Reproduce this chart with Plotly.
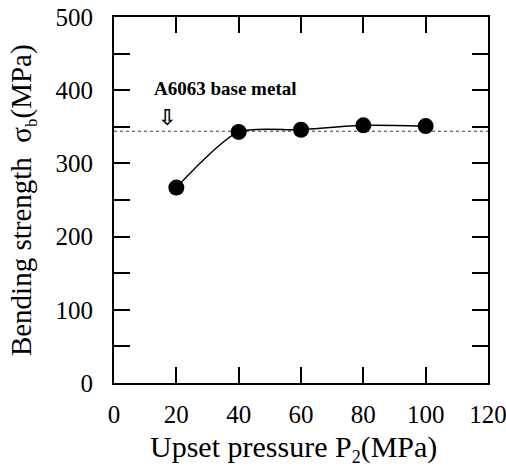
import plotly.graph_objects as go

pressure = [20, 40, 60, 80, 100]
strength = [267, 343, 346, 352, 351]
base_metal_strength = 344
base_x = [0, 120]
x_ticks = [0, 20, 40, 60, 80, 100, 120]
y_ticks = [0, 100, 200, 300, 400, 500]

FONT = "Liberation Serif"

fig = go.Figure()
fig.add_trace(go.Scatter(
    x=base_x, y=[base_metal_strength] * len(base_x), mode="lines",
    line=dict(color="#333", width=1, dash="dot"), showlegend=False, hoverinfo="skip"))
fig.add_trace(go.Scatter(
    x=pressure, y=strength, mode="lines+markers",
    line=dict(color="black", width=1.5, shape="spline", smoothing=0.7),
    marker=dict(color="black", size=16),
    showlegend=False))
fig.add_trace(go.Scatter(
    x=pressure, y=strength, mode="markers", xaxis="x2", yaxis="y2",
    marker=dict(opacity=0), showlegend=False, hoverinfo="skip"))

fig.add_annotation(x=12.3, y=403, text="<b>A6063 base metal</b>", showarrow=False,
                   xanchor="left", yanchor="middle",
                   font=dict(family=FONT, size=19, color="black"))
fig.add_annotation(x=17, y=363, text="<b>⇩</b>", showarrow=False,
                   xanchor="center", yanchor="middle",
                   font=dict(family="DejaVu Sans", size=22, color="black"))

fig.add_annotation(xref="paper", yref="paper", x=-0.243, y=0.5, textangle=-90,
                   text="Bending strength  σ<sub><span style='font-size:17px'>b</span></sub>(MPa)",
                   showarrow=False, xanchor="center", yanchor="middle",
                   font=dict(family=FONT, size=29, color="black"))
fig.add_annotation(xref="paper", yref="paper", x=0.479, y=-0.178,
                   text="Upset pressure P<sub><span style='font-size:18px'>2</span></sub>(MPa)",
                   showarrow=False, xanchor="center", yanchor="middle",
                   font=dict(family=FONT, size=30, color="black"))

axis_common = dict(showline=True, linecolor="black", linewidth=2, mirror="allticks",
                   ticks="inside", ticklen=16, tickwidth=2, tickcolor="black",
                   showgrid=False, zeroline=False, automargin=False,
                   ticklabeloverflow="allow",
                   tickfont=dict(family=FONT, size=25, color="black"))

fig.update_layout(
    xaxis=dict(range=[0, 120], tickvals=x_ticks, ticktext=[str(v) for v in x_ticks],
               ticklabelstandoff=8, **axis_common),
    yaxis=dict(range=[0, 500], tickvals=y_ticks, ticktext=[str(v) for v in y_ticks],
               minor=dict(dtick=50, ticks="inside", ticklen=16, tickwidth=2, tickcolor="black"),
               ticklabelstandoff=14, **axis_common),
    xaxis2=dict(range=[0, 120], tickvals=x_ticks, overlaying="x", side="top", anchor="y2",
                ticks="inside", ticklen=16, tickwidth=2, tickcolor="black",
                showticklabels=False, showline=False, showgrid=False, zeroline=False),
    yaxis2=dict(range=[0, 500], tickvals=y_ticks, overlaying="y", side="right", anchor="x2",
                ticks="inside", ticklen=16, tickwidth=2, tickcolor="black",
                minor=dict(dtick=50, ticks="inside", ticklen=16, tickwidth=2, tickcolor="black"),
                showticklabels=False, showline=False, showgrid=False, zeroline=False),
    width=506, height=468, margin=dict(l=114, r=18, t=17, b=85, autoexpand=False),
    plot_bgcolor="white", paper_bgcolor="white")

fig.write_html("out.html", config={"displayModeBar": False},
               post_script="document.body.style.margin='0';document.body.style.overflow='hidden';")
